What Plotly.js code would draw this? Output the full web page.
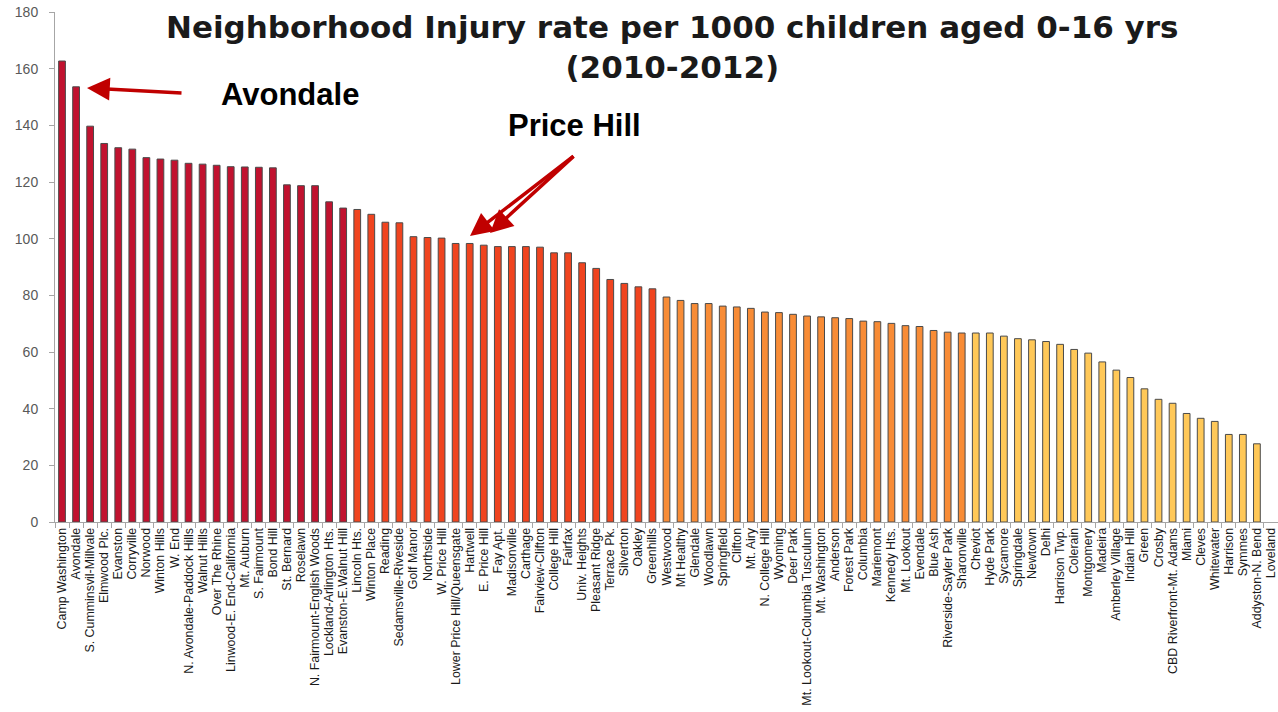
<!DOCTYPE html>
<html>
<head>
<meta charset="utf-8">
<script src="https://cdn.plot.ly/plotly-3.0.1.min.js"></script>
<style>html,body{margin:0;padding:0;background:#fff;}#chart{width:1278px;height:712px;}</style>
</head>
<body>
<div id="chart"></div>
<script>
const neighborhoods = [
  "Camp Washington","Avondale","S. Cumminsvil-Millvale","Elmwood Plc.","Evanston","Corryville","Norwood","Winton Hills","W. End","N. Avondale-Paddock Hills",
  "Walnut Hills","Over The Rhine","Linwood-E. End-California","Mt. Auburn","S. Fairmount","Bond Hill","St. Bernard","Roselawn","N. Fairmount-English Woods","Lockland-Arlington Hts.",
  "Evanston-E.Walnut Hill","Lincoln Hts.","Winton Place","Reading","Sedamsville-Riveside","Golf Manor","Northside","W. Price Hill","Lower Price Hill/Queensgate","Hartwell",
  "E. Price Hill","Fay Apt.","Madisonville","Carthage","Fairview-Clifton","College Hill","Fairfax","Univ. Heights","Pleasant Ridge","Terrace Pk.",
  "Silverton","Oakley","Greenhills","Westwood","Mt Healthy","Glendale","Woodlawn","Springfield","Clifton","Mt. Airy",
  "N. College Hill","Wyoming","Deer Park","Mt. Lookout-Columbia Tusculum","Mt. Washington","Anderson","Forest Park","Columbia","Mariemont","Kennedy Hts.",
  "Mt. Lookout","Evendale","Blue Ash","Riverside-Sayler Park","Sharonville","Cheviot","Hyde Park","Sycamore","Springdale","Newtown",
  "Delhi","Harrison Twp.","Colerain","Montgomery","Madeira","Amberley Village","Indian Hill","Green","Crosby","CBD Riverfront-Mt. Adams",
  "Miami","Cleves","Whitewater","Harrison","Symmes","Addyston-N. Bend","Loveland"
];
const injuryRate = [
  162.7,153.6,139.7,133.6,132.1,131.6,128.6,128.1,127.7,126.6,
  126.3,125.9,125.4,125.3,125.2,125.0,119.0,118.7,118.7,113.0,
  110.8,110.3,108.6,105.8,105.6,100.7,100.4,100.2,98.3,98.3,
  97.7,97.2,97.2,97.2,97.0,95.0,95.0,91.5,89.5,85.6,
  84.2,83.0,82.3,79.4,78.2,77.1,77.1,76.2,75.9,75.4,
  74.1,73.9,73.3,72.7,72.4,72.1,71.8,70.9,70.7,70.1,
  69.3,69.0,67.6,67.0,66.7,66.7,66.7,65.6,64.7,64.3,
  63.7,62.7,60.9,59.6,56.5,53.6,51.0,47.0,43.3,41.9,
  38.3,36.6,35.5,30.9,30.9,27.6,null
];
const yTicks = [0,20,40,60,80,100,120,140,160,180];

const tierColors = ["#C1122F","#F0441F","#F88C36","#FFC858"];
const tierStarts = [0,21,43,65];
const colors = injuryRate.map((v,i)=>{
  let t=0; for(let k=0;k<tierStarts.length;k++){ if(i>=tierStarts[k]) t=k; }
  return tierColors[t];
});

const trace = {
  type:'bar',
  x: neighborhoods,
  y: injuryRate,
  marker:{color:colors, line:{color:'#4a4a4a', width:1}},
  hoverinfo:'x+y'
};

const L=55, R=1278, T=12, B=522;
function px(x){return (x-L)/(R-L);}
function py(y){return (B-y)/(B-T);}

const layout = {
  width:1278, height:712,
  margin:{l:55, r:0, t:12, b:190},
  paper_bgcolor:'#fff', plot_bgcolor:'#fff',
  bargap:0.52,
  showlegend:false,
  xaxis:{
    type:'category',
    range:[-0.5, neighborhoods.length-0.5],
    tickmode:'linear', tick0:0, dtick:1,
    tickangle:-90,
    ticks:'outside', tickson:'boundaries', ticklen:5, tickcolor:'#A6A6A6',
    ticklabelstandoff:0,
    showline:true, linecolor:'#A6A6A6', linewidth:1,
    showgrid:false, zeroline:false,
    tickfont:{family:'Liberation Sans Narrow, Liberation Sans, Arial, sans-serif', size:12.4, color:'#1a1a1a'},
    automargin:false
  },
  yaxis:{
    range:[0,180],
    tickvals:yTicks,
    ticks:'outside', ticklen:5, tickcolor:'#A6A6A6',
    ticklabelstandoff:8,
    showline:true, linecolor:'#A6A6A6', linewidth:1,
    showgrid:false, zeroline:false,
    tickfont:{family:'Liberation Sans, Arial, sans-serif', size:14, color:'#595959'},
    automargin:false
  },
  annotations:[
    {xref:'paper', yref:'paper', x:px(672), y:py(47), xanchor:'center', yanchor:'middle', showarrow:false,
     text:'<b>Neighborhood Injury rate per 1000 children aged 0-16 yrs<br>(2010-2012)</b>',
     font:{family:'DejaVu Sans, Verdana, sans-serif', size:31, color:'#1a1a1a'}},
    {xref:'paper', yref:'paper', x:px(290), y:py(95), xanchor:'center', yanchor:'middle', showarrow:false,
     text:'<b>Avondale</b>', font:{family:'Liberation Sans, Arial, sans-serif', size:31, color:'#000'}},
    {xref:'paper', yref:'paper', x:px(574), y:py(126), xanchor:'center', yanchor:'middle', showarrow:false,
     text:'<b>Price Hill</b>', font:{family:'Liberation Sans, Arial, sans-serif', size:31, color:'#000'}},
    {xref:'paper', yref:'paper', x:px(87), y:py(88), ax:96, ay:5, showarrow:true, text:'',
     arrowhead:2, arrowsize:1.3, arrowwidth:3.5, arrowcolor:'#C00000'},
    {xref:'paper', yref:'paper', x:px(470), y:py(236), ax:105, ay:-81, showarrow:true, text:'',
     arrowhead:2, arrowsize:1.3, arrowwidth:3.5, arrowcolor:'#C00000'},
    {xref:'paper', yref:'paper', x:px(490), y:py(233), ax:85, ay:-78, showarrow:true, text:'',
     arrowhead:2, arrowsize:1.3, arrowwidth:3.5, arrowcolor:'#C00000'}
  ]
};

Plotly.newPlot('chart',[trace],layout,{displayModeBar:false, staticPlot:true});
</script>
</body>
</html>
